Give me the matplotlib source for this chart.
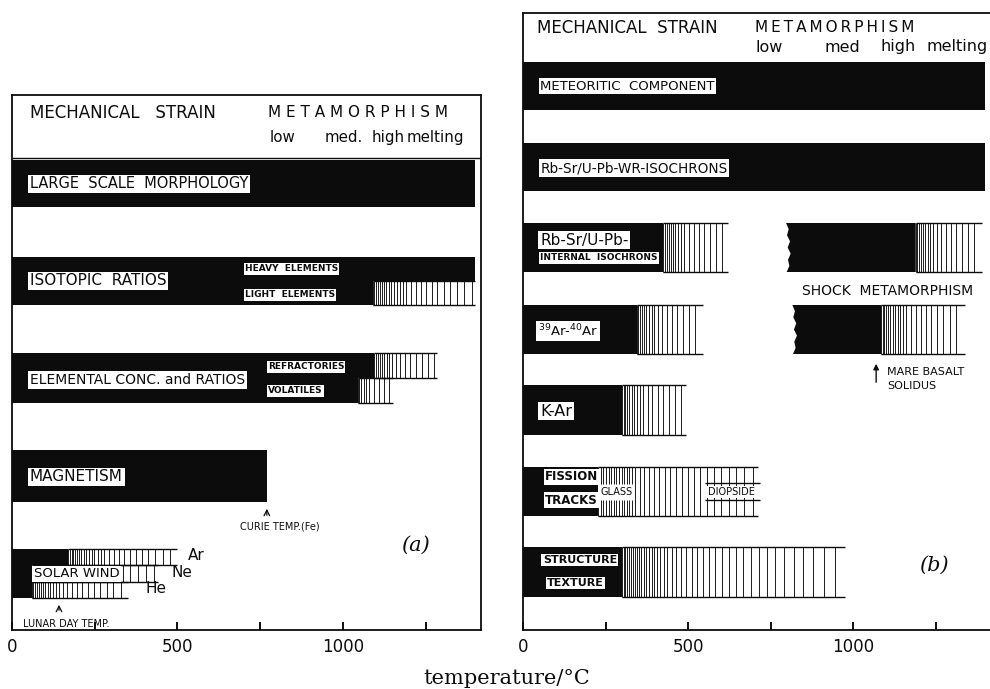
import numpy as np
import matplotlib
matplotlib.use("Agg")
import matplotlib.pyplot as plt

# ---------------- data (temperatures in degC) ----------------
# Panel (a): (label, black end, hatched end); None = no hatched part
morphology = ("LARGE  SCALE  MORPHOLOGY", 1400, None)
iso_heavy = ("HEAVY  ELEMENTS", 1400, None)
iso_light = ("LIGHT  ELEMENTS", 1090, 1400)
elem_refractories = ("REFRACTORIES", 1095, 1285)
elem_volatiles = ("VOLATILES", 1045, 1150)
magnetism = ("MAGNETISM", 770, None)
solar_gases = ["Ar", "Ne", "He"]
solar_black_end = [170, 60, 60]
solar_hatch_end = [500, 440, 350]
curie_temp_fe = 770
lunar_day_temp = 142

# Panel (b)
meteoritic = ("METEORITIC  COMPONENT", 1400, None)
wr_isochrons = ("Rb-Sr/U-Pb-WR-ISOCHRONS", 1400, None)
internal_isochrons = ("Rb-Sr/U-Pb-", 425, 620)
ar_ar = (r"$^{39}$Ar-$^{40}$Ar", 345, 545)
k_ar = ("K-Ar", 300, 495)
fission = ("FISSION", 228, 712)
glass_range = (228, 340)
diopside_range = (550, 712)
structure = ("STRUCTURE", 300, 975)
shock_upper = (797, 1190, 1390)   # start, black end, hatched end
shock_lower = (816, 1085, 1340)
mare_basalt_solidus = 1070

tick_values = [0, 250, 500, 750, 1000, 1250]
tick_labels = ["0", "", "500", "", "1000", ""]

# ---------------- drawing helpers ----------------
INK = "#0c0c0c"
SANS = ["DejaVu Sans"]
DEG_PER_PX = 1 / 0.331


def black_bar(ax, x0, x1, top, bot):
    ax.fill_between([x0, x1], top, bot, color=INK, lw=0)


def hatched(ax, x0, x1, top, bot, frame=True, dense=True, step_px=None):
    """Vertical strokes: a tight grey band at x0, then opening up to x1."""
    length = x1 - x0
    band = min(0.3 * length, 130) if dense else 0
    smax = 5 + 0.01 * length
    xs, x = [], x0
    while x < x1 - 0.4 * smax * DEG_PER_PX:
        xs.append(x)
        if step_px is not None:
            x += step_px * DEG_PER_PX
        elif x - x0 < band:
            g = (x - x0) / band
            x += (1.6 + 1.8 * g) * DEG_PER_PX
        else:
            f = (x - x0 - band) / (length - band)
            x += (4.5 + (smax - 4.5) * f) * DEG_PER_PX
    ax.vlines(xs, top, bot, colors=INK, lw=0.65)
    if frame:
        ax.hlines([top, bot], x0, x1, colors=INK, lw=1.0)


def box_label(ax, x, y, s, size=10, **kw):
    ax.text(x, y, s, fontsize=size, family=SANS, color=INK, ha="left",
            va="center", zorder=5,
            bbox=dict(boxstyle="square,pad=0.12", fc="white", ec="none"), **kw)


def plain(ax, x, y, s, size=10, ha="left", **kw):
    ax.text(x, y, s, fontsize=size, family=SANS, color=INK, ha=ha,
            va="center", zorder=5, **kw)


def style_axes(ax, xmax, top, right_spine=True):
    ax.set_xlim(0, xmax)
    ax.set_ylim(630, top)
    ax.set_yticks([])
    ax.set_xticks(tick_values)
    ax.set_xticklabels(tick_labels)
    ax.tick_params(axis="x", direction="in", length=6, width=1.4, pad=6,
                   labelsize=12, colors=INK)
    for lab in ax.get_xticklabels():
        lab.set_family(SANS)
    for sp in ax.spines.values():
        sp.set_linewidth(1.3)
        sp.set_color(INK)
    ax.spines["right"].set_visible(right_spine)


fig = plt.figure(figsize=(9.9, 6.89), dpi=100)
W, H = 990.0, 689.0

# ================= panel (a) =================
axa = fig.add_axes([12 / W, 1 - 630 / H, 469 / W, 535 / H])
style_axes(axa, 1417, 95)

axa.hlines(158, 0, 1417, colors=INK, lw=1.0)
plain(axa, 54, 113, "MECHANICAL   STRAIN", 12)
plain(axa, 773, 113, "M E T A M O R P H I S M", 11)
for x, s in [(779, "low"), (946, "med."), (1086, "high"), (1192, "melting")]:
    plain(axa, x, 138, s, 10.8)

# large scale morphology
black_bar(axa, 0, morphology[1], 160, 207)
box_label(axa, 54, 184, morphology[0], 10.5)

# isotopic ratios
black_bar(axa, 0, iso_heavy[1], 257, 281)
black_bar(axa, 0, iso_light[1], 281, 305)
hatched(axa, iso_light[1], iso_light[2], 281, 305)
box_label(axa, 54, 281, "ISOTOPIC  RATIOS", 11)
box_label(axa, 704, 269, iso_heavy[0], 6.5, fontweight="bold")
box_label(axa, 704, 295, iso_light[0], 6.5, fontweight="bold")

# elemental concentrations
black_bar(axa, 0, elem_refractories[1], 353, 378)
hatched(axa, elem_refractories[1], elem_refractories[2], 353, 378)
black_bar(axa, 0, elem_volatiles[1], 378, 403)
hatched(axa, elem_volatiles[1], elem_volatiles[2], 378, 403)
box_label(axa, 54, 380, "ELEMENTAL CONC. and RATIOS", 10)
box_label(axa, 773, 367, elem_refractories[0], 6.5, fontweight="bold")
box_label(axa, 773, 391, elem_volatiles[0], 6.5, fontweight="bold")

# magnetism
black_bar(axa, 0, magnetism[1], 450, 502)
box_label(axa, 54, 477, magnetism[0], 11)
axa.annotate("", xy=(curie_temp_fe, 506), xytext=(curie_temp_fe, 518),
             arrowprops=dict(arrowstyle="->", lw=0.9, color=INK))
plain(axa, 690, 527, "CURIE TEMP.(Fe)", 7)

# solar wind
rows = [(549, 565), (565, 582), (582, 598)]
black_bar(axa, 0, min(solar_black_end), 549, 598)
label_x = [532, 483, 402]
for gas, b_end, h_end, (t, b), lx in zip(solar_gases, solar_black_end,
                                         solar_hatch_end, rows, label_x):
    black_bar(axa, 0, b_end, t, b)
    hatched(axa, b_end, h_end, t, b)
    plain(axa, lx, (t + b) / 2 - 1, gas, 11)
box_label(axa, 66, 574, "SOLAR WIND", 9.5)
axa.annotate("", xy=(lunar_day_temp, 602), xytext=(lunar_day_temp, 613),
             arrowprops=dict(arrowstyle="->", lw=0.9, color=INK))
plain(axa, 33, 624, "LUNAR DAY TEMP.", 7)

axa.text(1220, 545, "(a)", fontsize=15, family=["DejaVu Serif"],
         style="italic", ha="center", va="center", color=INK)

# ================= panel (b) =================
axb = fig.add_axes([523 / W, 1 - 630 / H, 467 / W, 617 / H])
style_axes(axb, 1415, 13, right_spine=False)

plain(axb, 42, 28, "MECHANICAL  STRAIN", 12)
plain(axb, 703, 28,
      "M\u2009E\u2009T\u2009A\u2009M\u2009O\u2009R\u2009P\u2009H\u2009I\u2009S\u2009M", 11)
for x, s in [(703, "low"), (915, "med"), (1082, "high"), (1224, "melting")]:
    plain(axb, x, 47, s, 11.5)

black_bar(axb, 0, meteoritic[1], 62, 110)
box_label(axb, 52, 86, meteoritic[0], 9.5)

black_bar(axb, 0, wr_isochrons[1], 143, 191)
box_label(axb, 52, 168, wr_isochrons[0], 9.8)

black_bar(axb, 0, internal_isochrons[1], 223, 272)
hatched(axb, internal_isochrons[1], internal_isochrons[2], 223, 272)
box_label(axb, 52, 240, internal_isochrons[0], 11)
box_label(axb, 52, 258, "INTERNAL  ISOCHRONS", 6.5, fontweight="bold")

black_bar(axb, 0, ar_ar[1], 305, 354)
hatched(axb, ar_ar[1], ar_ar[2], 305, 354)
box_label(axb, 45, 331, ar_ar[0], 9.5)

black_bar(axb, 0, k_ar[1], 385, 435)
hatched(axb, k_ar[1], k_ar[2], 385, 435)
box_label(axb, 52, 411, k_ar[0], 11.5)

# fission tracks
black_bar(axb, 0, fission[1], 467, 516)
hatched(axb, glass_range[0], glass_range[1], 467, 484, frame=False,
        step_px=2.6)
hatched(axb, glass_range[0], glass_range[1], 500, 516, frame=False,
        step_px=2.6)
hatched(axb, glass_range[1], fission[2], 467, 516, dense=False)
axb.hlines([467, 516], glass_range[0], glass_range[1], colors=INK, lw=1.0)
axb.hlines([483, 500], diopside_range[0], diopside_range[1] + 5,
           colors=INK, lw=1.0)
box_label(axb, 67, 477, fission[0], 8.5, fontweight="bold")
box_label(axb, 67, 500, "TRACKS", 8.5, fontweight="bold")
box_label(axb, 236, 492, "GLASS", 7)
box_label(axb, 560, 492, "DIOPSIDE", 7)

# structure / texture
black_bar(axb, 0, structure[1], 547, 597)
hatched(axb, structure[1], structure[2], 547, 597)
box_label(axb, 60, 560, structure[0], 8, fontweight="bold")
box_label(axb, 73, 583, "TEXTURE", 8, fontweight="bold")

# shock metamorphism bars with torn left edges
edge_dy = np.linspace(0, 1, 9)
edge_dx = np.array([0, 8, 3, 12, 5, 14, 6, 10, 2])
for (x0, b_end, h_end), (t, b) in [(shock_upper, (223, 272)),
                                    (shock_lower, (305, 354))]:
    ys = t + edge_dy * (b - t)
    xs = x0 + edge_dx
    axb.fill(np.r_[xs, b_end, b_end], np.r_[ys, b, t], color=INK, lw=0)
    hatched(axb, b_end, h_end, t, b)
plain(axb, 1106, 291, "SHOCK  METAMORPHISM", 10, ha="center")
axb.annotate("", xy=(mare_basalt_solidus, 361),
             xytext=(mare_basalt_solidus, 385),
             arrowprops=dict(arrowstyle="-|>", lw=1.0, color=INK,
                             mutation_scale=8))
plain(axb, 1103, 372, "MARE BASALT", 8)
plain(axb, 1103, 386, "SOLIDUS", 8)

axb.text(1245, 565, "(b)", fontsize=15, family=["DejaVu Serif"],
         style="italic", ha="center", va="center", color=INK)

fig.text(507 / W, 1 - 678 / H, "temperature/\u00b0C", fontsize=15,
         family=["DejaVu Serif"], ha="center", va="center", color=INK)

fig.savefig("out.png", dpi=100, facecolor="white")
